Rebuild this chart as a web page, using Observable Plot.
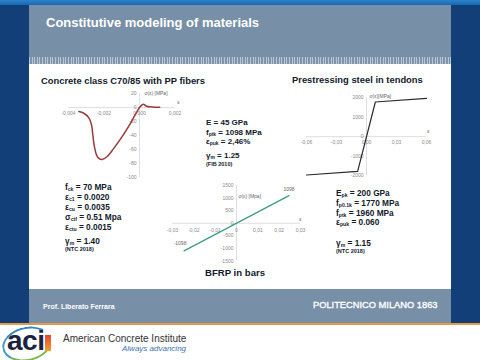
<!DOCTYPE html>
<html><head><meta charset="utf-8">
<script src="https://cdn.jsdelivr.net/npm/d3@7"></script>
<script src="https://cdn.jsdelivr.net/npm/@observablehq/plot@0.6"></script>
<style>
html,body{margin:0;padding:0;}
body{width:480px;height:360px;overflow:hidden;position:relative;background:#fff;font-family:"Liberation Sans",Arial,sans-serif;}
.abs{position:absolute;white-space:nowrap;line-height:1;}
.blk{position:absolute;white-space:nowrap;line-height:1;font-weight:bold;color:#121a2c;}
sub{font-size:0.62em;vertical-align:-0.28em;line-height:0;}
#charts svg{position:absolute;max-width:none;}
</style></head><body>
<div class="abs" style="left:0;top:0;width:480px;height:323px;background:#133f78;"></div>
<div class="abs" style="left:0;top:0;width:480px;height:5px;background:linear-gradient(#2b84cc,#1a66b0);"></div>
<div class="abs" style="left:29px;top:5px;width:422px;height:52px;background:#7890a7;"></div>
<div class="abs" style="left:29px;top:57px;width:422px;height:7px;background:repeating-linear-gradient(90deg,#b9c6d3 0 1px,#7d94aa 1px 2.6px);"></div>
<div class="abs" style="left:29px;top:64px;width:422px;height:225px;background:#fff;"></div>
<div class="abs" style="left:29px;top:289px;width:422px;height:34px;background:#7890a7;"></div>
<div class="abs" style="left:0;top:323px;width:480px;height:2px;background:#e49a48;"></div>

<div class="abs" style="left:46px;top:15.7px;font-size:13px;font-weight:bold;color:#fff;">Constitutive modeling of materials</div>

<div id="charts"></div>

<div class="abs" style="left:41px;top:75.6px;font-size:9.4px;font-weight:bold;color:#121a2c;">Concrete class C70/85 with PP fibers</div>
<div class="abs" style="left:292px;top:75px;font-size:9.4px;font-weight:bold;color:#121a2c;">Prestressing steel in tendons</div>
<div class="abs" style="left:205px;top:268px;font-size:9.6px;font-weight:bold;color:#121a2c;">BFRP in bars</div>

<div class="blk" style="left:206px;top:119px;font-size:8px;">E = 45 GPa</div>
<div class="blk" style="left:206px;top:129px;font-size:8px;">f<sub>ptk</sub> = 1098 MPa</div>
<div class="blk" style="left:206px;top:138px;font-size:8px;">ε<sub>puk</sub> = 2,46%</div>
<div class="blk" style="left:206px;top:152px;font-size:8px;">γ<sub>m</sub> = 1.25</div>
<div class="blk" style="left:206px;top:161.5px;font-size:5.5px;">(FIB 2010)</div>

<div class="blk" style="left:65px;top:182.6px;font-size:8.3px;">f<sub>ck</sub> = 70 MPa</div>
<div class="blk" style="left:65px;top:192.6px;font-size:8.3px;">ε<sub>c1</sub> = 0.0020</div>
<div class="blk" style="left:65px;top:202.6px;font-size:8.3px;">ε<sub>cu</sub> = 0.0035</div>
<div class="blk" style="left:65px;top:212.6px;font-size:8.3px;">σ<sub>ctf</sub> = 0.51 Mpa</div>
<div class="blk" style="left:65px;top:222.6px;font-size:8.3px;">ε<sub>ctu</sub> = 0.0015</div>
<div class="blk" style="left:65px;top:236.6px;font-size:8.3px;">γ<sub>m</sub> = 1.40</div>
<div class="blk" style="left:65px;top:246.5px;font-size:5.5px;">(NTC 2018)</div>

<div class="blk" style="left:336px;top:189.2px;font-size:8.3px;">E<sub>pk</sub> = 200 GPa</div>
<div class="blk" style="left:336px;top:199.2px;font-size:8.3px;">f<sub>p0.1k</sub> = 1770 MPa</div>
<div class="blk" style="left:336px;top:209.2px;font-size:8.3px;">f<sub>ptk</sub> = 1960 MPa</div>
<div class="blk" style="left:336px;top:218.2px;font-size:8.3px;">ε<sub>puk</sub> = 0.060</div>
<div class="blk" style="left:336px;top:239.2px;font-size:8.3px;">γ<sub>m</sub> = 1.15</div>
<div class="blk" style="left:336px;top:249px;font-size:5.5px;">(NTC 2018)</div>

<div class="abs" style="left:43px;top:302.5px;font-size:7px;font-weight:bold;color:#fff;">Prof. Liberato Ferrara</div>
<div class="abs" style="left:313px;top:301.4px;font-size:9.3px;color:#fff;-webkit-text-stroke:0.35px #fff;">POLITECNICO MILANO 1863</div>

<div class="abs" style="left:2px;top:327px;width:46px;height:30px;border-radius:50%;border:2.5px solid transparent;border-top-color:#2f86c8;border-left-color:#3f9ad0;border-bottom-color:#79b84a;transform:rotate(-12deg);"></div>
<div class="abs" style="left:45px;top:335px;width:6px;height:16px;background:linear-gradient(#e8452f,#f0a030);"></div>
<div class="abs" style="left:7px;top:327px;font-size:28px;font-weight:bold;color:#1c2340;letter-spacing:-0.5px;">aci</div>
<div class="abs" style="left:63px;top:334px;font-size:10px;color:#333;">American Concrete Institute</div>
<div class="abs" style="left:122px;top:345px;font-size:8px;font-style:italic;color:#3a6fb5;">Always advancing</div>

<script>
// ---- data ----
const concreteStrain = [-0.00342, -0.00314, -0.00286, -0.00270, -0.00263, -0.00254, -0.00242, -0.00229, -0.00210, -0.00182, -0.00145, -0.00097, -0.00051, -0.00013, 0, 0.00021, 0.00039, 0.00072, 0.00114];
const concreteStress = [-5.7, -8.1, -14.3, -24.9, -39.1, -55.7, -67.7, -72.4, -73.9, -69.6, -58.1, -41.0, -22.4, -5.3, 0, 4.7, 1.9, 0.9, 0.4];
const c1XTicks = [-0.004, -0.002, 0, 0.002];
const c1XLabels = ["-0,004", "-0,002", "0,000", "0,002"];
const c1YTicks = [20, 0, -20, -40, -60, -80, -100];

const steelStrain = [-0.06, -0.00885, 0.00885, 0.06];
const steelStress = [-1960, -1770, 1770, 1960];
const c2XTicks = [-0.06, -0.03, 0, 0.03, 0.06];
const c2XLabels = ["-0,06", "-0,03", "0,00", "0,03", "0,06"];
const c2YTicks = [2000, 1000, 0, -1000, -2000];

const bfrpStrain = [-0.0246, 0.0246];
const bfrpStress = [-1098, 1098];
const c3XTicks = [-0.03, -0.02, -0.01, 0, 0.01, 0.02, 0.03];
const c3XLabels = ["-0,03", "-0,02", "-0,01", "0", "0,01", "0,02", "0,03"];
const c3YTicks = [1500, 1000, 500, 0, -500, -1000, -1500];

const rows = (xs, ys) => xs.map((e, i) => ({e, s: ys[i]}));
const concrete = rows(concreteStrain, concreteStress);
const steel = rows(steelStrain, steelStress);
const bfrp = rows(bfrpStrain, bfrpStress);

const AX = "#d6d6d6", LB = "#8a8a8a";
function chart(px, py, xDomain, yDomain, marks) {
  const M = 16;
  const svg = Plot.plot({
    width: px[1] - px[0] + 2 * M, height: py[1] - py[0] + 2 * M,
    marginLeft: M, marginRight: M, marginTop: M, marginBottom: M,
    x: {domain: xDomain, axis: null}, y: {domain: yDomain, axis: null},
    style: {background: "transparent", fontFamily: "Liberation Sans, Arial, sans-serif", overflow: "visible"},
    marks
  });
  svg.style.left = (px[0] - M) + "px";
  svg.style.top = (py[0] - M) + "px";
  document.getElementById("charts").appendChild(svg);
}
const xLab = (ticks, labels, dy) => Plot.text(ticks, {x: d => d, y: 0, text: (d, i) => labels[i], dy, fontSize: 5, fill: LB});
const yLab = (ticks, dx) => Plot.text(ticks, {x: 0, y: d => d, text: d => String(d), dx, textAnchor: "end", fontSize: 5, fill: LB});

chart([68, 174.5], [93, 177.3], [-0.004, 0.002], [-100, 20], [
  Plot.ruleY([0], {stroke: AX, strokeWidth: 0.8}),
  Plot.ruleX([0], {stroke: AX, strokeWidth: 0.8}),
  xLab(c1XTicks, c1XLabels, 6),
  yLab(c1YTicks, -3),
  Plot.line(concrete, {x: "e", y: "s", stroke: "#9a3a3a", strokeWidth: 1.5, curve: "catmull-rom"}),
  Plot.text(["σ(ε) [MPa]"], {x: 0, y: 20, dx: 5, textAnchor: "start", fontSize: 5, fill: "#666"}),
  Plot.text(["ε"], {x: 0.0022, y: 0, dy: -5, fontSize: 5.5, fill: "#666"})
]);

chart([306, 426], [96.7, 175], [-0.06, 0.06], [-2000, 2000], [
  Plot.ruleY([0], {stroke: AX, strokeWidth: 0.8}),
  Plot.ruleX([0], {stroke: AX, strokeWidth: 0.8}),
  xLab(c2XTicks, c2XLabels, 6),
  yLab(c2YTicks, -3),
  Plot.line(steel, {x: "e", y: "s", stroke: "#2a2a2a", strokeWidth: 1.2}),
  Plot.text(["σ(ε)[MPa]"], {x: 0, y: 2000, dx: 3, dy: -1, textAnchor: "start", fontSize: 5, fill: "#666"}),
  Plot.text(["ε"], {x: 0.062, y: 0, dy: -5, fontSize: 5.5, fill: "#666"})
]);

chart([172, 300], [184.5, 260], [-0.03, 0.03], [-1500, 1500], [
  Plot.ruleY([0], {stroke: AX, strokeWidth: 0.8}),
  Plot.ruleX([0], {stroke: AX, strokeWidth: 0.8}),
  xLab(c3XTicks, c3XLabels, 7),
  yLab(c3YTicks, -3),
  Plot.line(bfrp, {x: "e", y: "s", stroke: "#3a9c80", strokeWidth: 1.2}),
  Plot.text([bfrp[0]], {x: "e", y: "s", text: d => String(d.s), dx: -4, dy: -7, fontSize: 5, fill: "#666"}),
  Plot.text([bfrp[1]], {x: "e", y: "s", text: d => String(d.s), dy: -6, fontSize: 5, fill: "#666"}),
  Plot.text(["σ(ε) [Mpa]"], {x: 0, y: 1050, dx: 2, textAnchor: "start", fontSize: 5, fill: "#666"}),
  Plot.text(["ε"], {x: 0.03, y: 0, dy: -4, fontSize: 5.5, fill: "#666"})
]);
</script>
</body></html>
